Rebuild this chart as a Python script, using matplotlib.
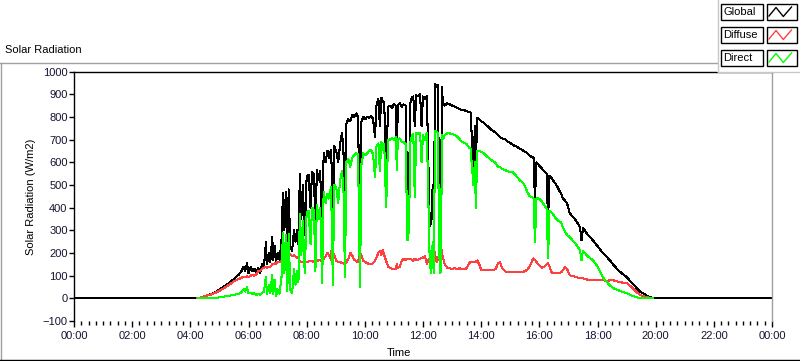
import matplotlib
matplotlib.use("Agg")
import matplotlib.pyplot as plt
import matplotlib.patches as patches
from matplotlib.ticker import MultipleLocator, FuncFormatter

plt.rcParams['font.family'] = ['Liberation Sans', 'DejaVu Sans']
plt.rcParams['font.size'] = 8

# time of day in minutes
MINUTES = [0,
    255, 262, 270, 285, 300, 315, 330, 340, 345, 350,
    353, 357, 360, 365, 368, 372, 376, 380, 384, 388,
    392, 396, 398, 402, 405, 409, 411, 414, 417, 420,
    424, 428, 431, 434, 437, 440, 443, 446, 450, 454,
    457, 460, 463, 466, 469, 472, 476, 480, 484, 488,
    491, 495, 498, 501, 505, 508, 512, 515, 519, 523,
    526, 530, 532, 534, 537, 541, 545, 549, 553, 556,
    559, 562, 566, 570, 574, 578, 582, 586, 590, 593,
    597, 601, 605, 609, 613, 617, 621, 624, 628, 631,
    634, 637, 640, 644, 648, 652, 656, 660, 664, 666,
    668, 672, 676, 680, 684, 688, 691, 694, 697, 700,
    703, 706, 710, 714, 717, 720, 724, 728, 731, 734,
    737, 740, 742, 745, 748, 751, 753, 755, 757, 759,
    761, 765, 770, 775, 780, 785, 790, 796, 800, 805,
    810, 815, 818, 821, 824, 827, 829, 832, 836, 840,
    845, 850, 855, 860, 865, 870, 875, 879, 883, 890,
    895, 900, 906, 912, 920, 928, 935, 940, 945, 948,
    951, 954, 958, 962, 966, 970, 975, 978, 981, 985,
    990, 995, 1000, 1005, 1009, 1013, 1017, 1023, 1035, 1044,
    1047, 1050, 1060, 1071, 1080, 1091, 1100, 1106, 1112, 1120,
    1130, 1141, 1150, 1161, 1168, 1174, 1185, 1195,
    1440]

GLOBAL = [0,
    0, 4, 10, 20, 38, 60, 85, 105, 118, 140,
    120, 155, 110, 140, 120, 130, 115, 135, 110, 150,
    140, 250, 150, 200, 160, 270, 170, 230, 160, 200,
    170, 250, 465, 300, 470, 220, 480, 230, 210, 300,
    250, 300, 240, 550, 350, 500, 280, 540, 545, 400,
    555, 545, 300, 565, 520, 560, 220, 640, 600, 650,
    620, 655, 560, 290, 670, 650, 600, 680, 730, 640,
    245, 770, 790, 780, 810, 800, 815, 800, 250, 780,
    800, 790, 800, 795, 805, 790, 710, 850, 880, 760,
    885, 870, 860, 565, 845, 850, 840, 855, 850, 620,
    850, 860, 845, 855, 850, 432, 500, 860, 885, 890,
    760, 895, 890, 900, 760, 890, 880, 890, 600, 320,
    330, 500, 320, 947, 930, 939, 450, 313, 350, 930,
    860, 850, 860, 855, 850, 845, 840, 835, 830, 830,
    825, 822, 820, 700, 564, 760, 600, 797, 790, 780,
    775, 765, 755, 745, 738, 730, 720, 710, 705, 700,
    690, 685, 675, 670, 660, 650, 640, 630, 622, 620,
    432, 600, 590, 580, 570, 560, 550, 344, 540, 530,
    515, 500, 480, 460, 440, 430, 420, 374, 345, 313,
    255, 310, 280, 255, 230, 200, 180, 167, 150, 130,
    110, 92, 70, 45, 30, 22, 8, 0,
    0]

DIFFUSE = [None,
    0, 4, 10, 18, 33, 52, 75, 85, 90, 95,
    92, 98, 92, 100, 105, 100, 105, 120, 120, 130,
    135, 140, 135, 140, 138, 150, 150, 155, 150, 160,
    160, 165, 185, 190, 195, 190, 200, 195, 185, 190,
    185, 180, 175, 165, 160, 160, 158, 160, 162, 165,
    165, 160, 160, 165, 168, 170, 160, 175, 185, 200,
    190, 170, 233, 200, 190, 165, 160, 160, 155, 155,
    150, 160, 175, 200, 190, 170, 165, 160, 200, 190,
    165, 160, 155, 150, 150, 155, 165, 180, 200, 210,
    190, 215, 190, 165, 140, 135, 130, 130, 130, 150,
    135, 140, 165, 175, 170, 175, 175, 175, 170, 165,
    175, 170, 170, 175, 178, 180, 185, 150, 170, 175,
    200, 233, 225, 190, 160, 170, 200, 233, 230, 200,
    180, 150, 135, 132, 130, 132, 130, 132, 130, 130,
    132, 155, 160, 160, 160, 160, 162, 167, 150, 125,
    123, 123, 123, 125, 125, 130, 155, 159, 135, 118,
    115, 115, 115, 115, 115, 118, 125, 140, 165, 176,
    170, 160, 150, 140, 135, 140, 150, 154, 140, 115,
    110, 110, 110, 115, 125, 137, 130, 101, 95, 88,
    88, 88, 82, 79, 79, 79, 78, 79, 80, 75,
    70, 66, 50, 26, 15, 10, 3, 0,
    None]

DIRECT = [None,
    0, 0, 0, 0, 4, 10, 15, 20, 26, 40,
    30, 48, 22, 25, 20, 22, 15, 20, 15, 25,
    30, 95, 20, 60, 25, 105, 20, 80, 10, 40,
    20, 90, 290, 110, 280, 30, 285, 40, 22, 130,
    60, 120, 70, 370, 190, 340, 110, 380, 385, 240,
    400, 390, 120, 410, 350, 400, 66, 470, 420, 460,
    440, 490, 330, 60, 500, 490, 420, 520, 560, 470,
    92, 600, 615, 580, 620, 630, 640, 635, 48, 590,
    640, 630, 640, 650, 655, 635, 533, 670, 683, 560,
    690, 655, 680, 401, 700, 700, 705, 700, 710, 564,
    700, 705, 690, 690, 680, 255, 300, 690, 715, 725,
    445, 730, 725, 730, 600, 720, 700, 730, 430, 150,
    110, 250, 110, 740, 735, 730, 250, 110, 120, 720,
    700, 720, 727, 727, 725, 720, 715, 700, 690, 685,
    680, 665, 660, 577, 500, 600, 396, 650, 650, 645,
    640, 630, 620, 610, 605, 595, 580, 578, 570, 565,
    560, 555, 555, 540, 520, 505, 470, 450, 445, 440,
    246, 440, 440, 435, 425, 410, 395, 176, 385, 380,
    365, 350, 340, 335, 310, 295, 280, 269, 240, 211,
    167, 210, 185, 167, 140, 92, 70, 57, 45, 38,
    30, 22, 12, 5, 0, 0, 0, 0,
    None]

SERIES = ["Global", "Diffuse", "Direct"]
COLORS = ["#000000", "#ff4040", "#00ff00"]

W, H = 800, 361
fig = plt.figure(figsize=(W / 100, H / 100), dpi=100)
fig.patch.set_facecolor("white")

# plot area in pixels: x 74..772, y 71.5..321
ax = fig.add_axes([74 / W, (H - 321) / H, 698 / W, (321 - 71.5) / H])
for vals, col in zip([GLOBAL, DIFFUSE, DIRECT], COLORS):
    y = [float("nan") if v is None else v for v in vals]
    ax.plot(MINUTES, y, color=col, lw=0.75, antialiased=False)

ax.set_xlim(0, 1440)
ax.set_ylim(-100, 1000)
ax.xaxis.set_major_locator(MultipleLocator(120))
ax.xaxis.set_minor_locator(MultipleLocator(15))
ax.yaxis.set_major_locator(MultipleLocator(100))
ax.xaxis.set_major_formatter(FuncFormatter(lambda m, p: "%02d:00" % ((int(m) // 60) % 24)))
ax.tick_params(axis="x", which="major", length=4.5, width=1, pad=2.5, labelsize=8, labelcolor="#141430")
ax.tick_params(axis="x", which="minor", length=2.6, width=1)
ax.tick_params(axis="y", length=3.6, width=1, pad=1, labelsize=8, labelcolor="#141430")
ax.spines["left"].set_color("black")
ax.spines["top"].set_color("black")
ax.spines["right"].set_color("#a0a0a0")
ax.spines["bottom"].set_visible(False)
for s in ax.spines.values():
    s.set_linewidth(1)

fig.text(31 / W, 1 - 197 / H, "Solar Radiation (W/m2)", rotation=90, ha="center", va="center", fontsize=8)
fig.text(399 / W, 1 - 353 / H, "Time", ha="center", va="center", fontsize=8)
fig.text(5 / W, 1 - 50 / H, "Solar Radiation", ha="left", va="center", fontsize=8)

# overlay in pixel coordinates for the frame and the legend
ov = fig.add_axes([0, 0, 1, 1], zorder=5)
ov.set_xlim(0, W)
ov.set_ylim(H, 0)
ov.axis("off")
ov.patch.set_alpha(0)
ov.plot([0, 717], [62.5, 62.5], color="#a0a0a0", lw=1)
ov.plot([0.5, 0.5], [62.5, 360], color="#a0a0a0", lw=1)
ov.plot([0, 800], [359.5, 359.5], color="black", lw=1)

ov.add_patch(patches.Rectangle((717, 0), 83, 72, facecolor="white", edgecolor="none"))
ov.plot([717.5, 717.5], [0, 72], color="#c8c8c8", lw=1)
ov.plot([717.5, 800], [72, 72], color="#c8c8c8", lw=1)
for i, (name, col) in enumerate(zip(SERIES, COLORS)):
    y0 = 3.5 + i * 23
    ov.add_patch(patches.Rectangle((720.5, y0), 42.5, 16.5, facecolor="white", edgecolor="black", lw=1))
    ov.add_patch(patches.Rectangle((766.5, y0), 30, 16.5, facecolor="white", edgecolor="black", lw=1))
    ov.text(723, y0 + 8.5, name, ha="left", va="center", fontsize=8)
    ov.plot([769, 776, 783.3, 791.5], [y0 + 12.5, y0 + 4, y0 + 13, y0 + 3.5], color=col, lw=1)

fig.savefig("out.png", dpi=100)
